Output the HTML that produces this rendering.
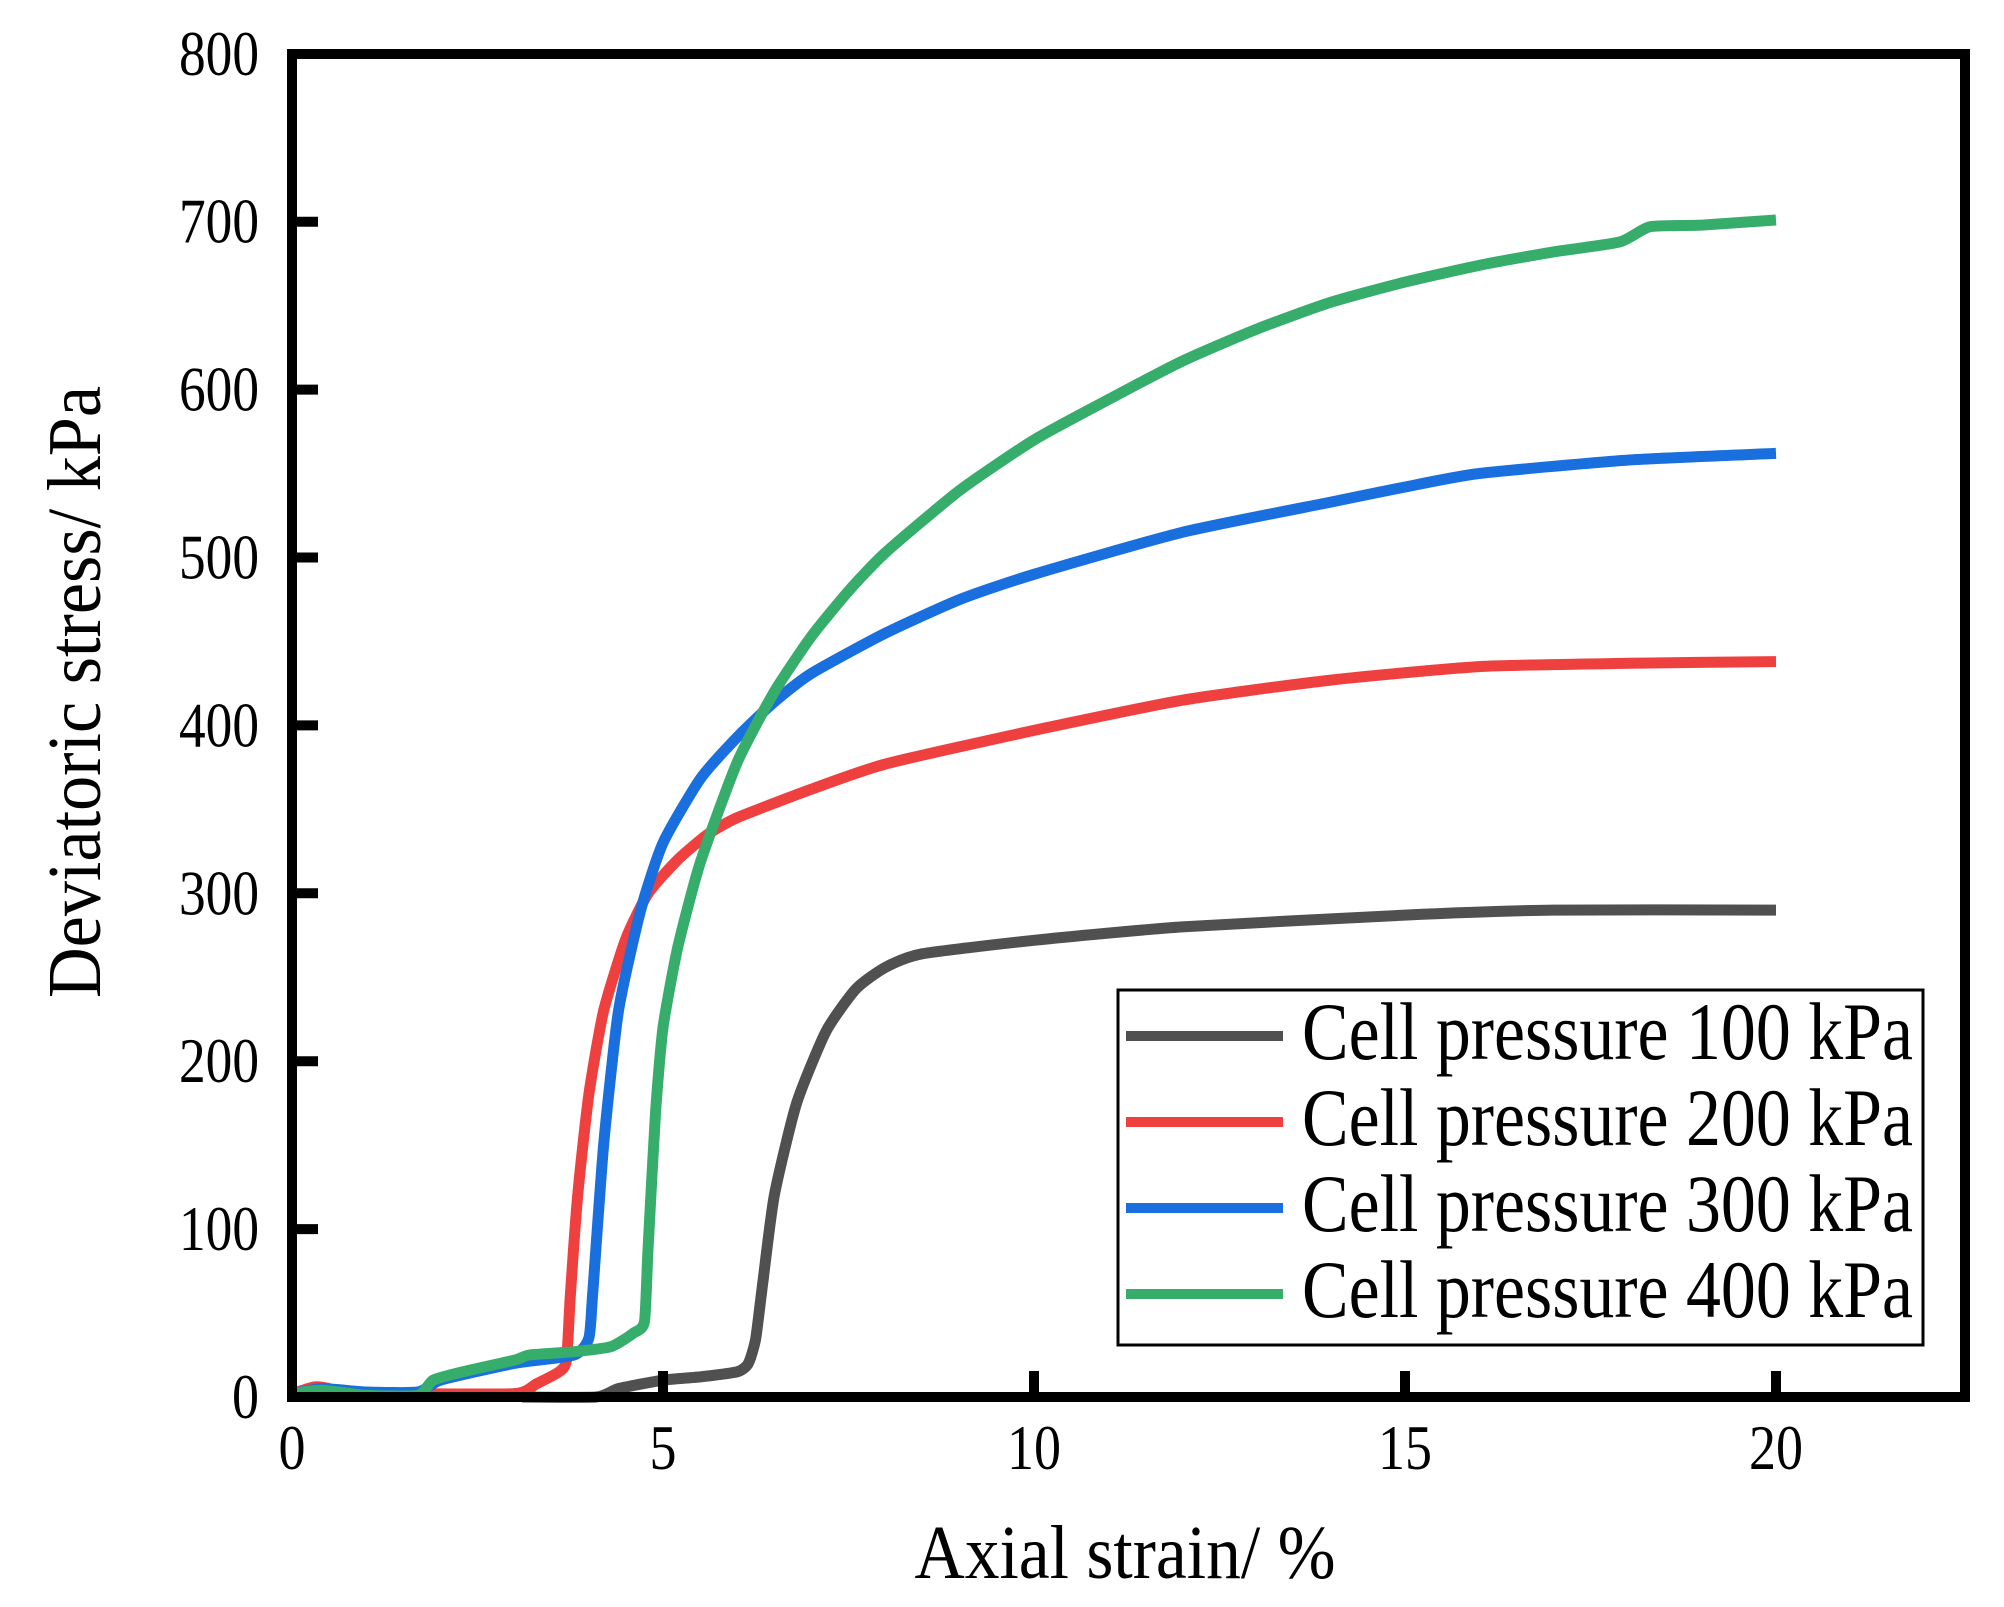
<!DOCTYPE html>
<html><head><meta charset="utf-8"><style>
html,body{margin:0;padding:0;background:#fff}
svg{display:block}
text{font-family:"Liberation Serif",serif;fill:#000}
</style></head><body>
<svg id="s" width="2004" height="1607" viewBox="0 0 2004 1607" xmlns="http://www.w3.org/2000/svg">
<g id="curves" fill="none" stroke-width="11" stroke-linejoin="round" stroke-linecap="butt"></g>
<rect x="292" y="54" width="1673" height="1343" fill="none" stroke="#000" stroke-width="10"/>
<g id="ticks" stroke="#000" stroke-width="10"></g>
<g id="labels" font-size="64"></g>
<text x="1125" y="1578" font-size="76" text-anchor="middle" textLength="421" lengthAdjust="spacingAndGlyphs">Axial strain/ %</text>
<text transform="translate(100,692) rotate(-90)" font-size="76" text-anchor="middle" textLength="612" lengthAdjust="spacingAndGlyphs">Deviatoric stress/ kPa</text>
<rect x="1118" y="990" width="805" height="355" fill="#fff" stroke="#000" stroke-width="3"/>
<g stroke-width="10">
<line x1="1126" y1="1036" x2="1283" y2="1036" stroke="#505050"/>
<line x1="1126" y1="1122" x2="1283" y2="1122" stroke="#ef4040"/>
<line x1="1126" y1="1208" x2="1283" y2="1208" stroke="#1a6fdf"/>
<line x1="1126" y1="1294" x2="1283" y2="1294" stroke="#37ad6b"/>
</g>
<g font-size="82">
<text x="1302" y="1059" textLength="611" lengthAdjust="spacingAndGlyphs">Cell pressure 100 kPa</text>
<text x="1302" y="1145" textLength="611" lengthAdjust="spacingAndGlyphs">Cell pressure 200 kPa</text>
<text x="1302" y="1231" textLength="611" lengthAdjust="spacingAndGlyphs">Cell pressure 300 kPa</text>
<text x="1302" y="1317" textLength="611" lengthAdjust="spacingAndGlyphs">Cell pressure 400 kPa</text>
</g>
</svg>
<script>
var NS="http://www.w3.org/2000/svg";
function X(x){return 292+74.2*x}
function Y(y){return 1397-1.679*y}
var t=document.getElementById("ticks"),l=document.getElementById("labels");
for(var v=0;v<=800;v+=100){
 if(v>0&&v<800){var ln=document.createElementNS(NS,"line");ln.setAttribute("x1",297);ln.setAttribute("x2",318);ln.setAttribute("y1",Y(v));ln.setAttribute("y2",Y(v));t.appendChild(ln);}
 var tx=document.createElementNS(NS,"text");tx.setAttribute("x",259);tx.setAttribute("y",Y(v)+21);tx.setAttribute("text-anchor","end");
 if(v>0){tx.setAttribute("textLength",80);tx.setAttribute("lengthAdjust","spacingAndGlyphs");}
 else{tx.setAttribute("textLength",27);tx.setAttribute("lengthAdjust","spacingAndGlyphs");}
 tx.textContent=v;l.appendChild(tx);
}
for(var u=0;u<=20;u+=5){
 if(u>0){var ln=document.createElementNS(NS,"line");ln.setAttribute("x1",X(u));ln.setAttribute("x2",X(u));ln.setAttribute("y1",1392);ln.setAttribute("y2",1371);t.appendChild(ln);}
 var tx=document.createElementNS(NS,"text");tx.setAttribute("x",X(u));tx.setAttribute("y",1469);tx.setAttribute("text-anchor","middle");
 tx.setAttribute("textLength",u>=10?54:27);tx.setAttribute("lengthAdjust","spacingAndGlyphs");
 tx.textContent=u;l.appendChild(tx);
}
var data=[
["#505050",[[3.1,0],[4.1,0],[4.4,5],[5,10],[5.5,12],[6,15],[6.15,20],[6.25,35],[6.35,70],[6.5,120],[6.8,175],[7.2,218],[7.6,243],[8,256],[8.5,264],[10,272],[12,280],[15,287],[17,290],[20,290]]],
["#ef4040",[[0,2],[0.3,6],[0.5,5],[0.7,2],[1.5,2],[3,2],[3.3,8],[3.6,15],[3.7,22],[3.75,60],[3.85,120],[4.0,180],[4.2,230],[4.5,273],[4.8,300],[5.2,320],[5.6,335],[6,345],[7,362],[8,377],[10,397],[12,415],[14,427],[16,435],[18,437],[20,438]]],
["#1a6fdf",[[0,2],[0.4,5],[1,3],[1.7,3],[2,10],[3,20],[3.8,25],[4.0,35],[4.05,60],[4.2,150],[4.4,230],[4.7,290],[5,330],[5.5,368],[6,393],[6.5,414],[7,431],[8,455],[9,475],[10,490],[12,515],[14,533],[15,542],[16,550],[18,558],[20,562]]],
["#37ad6b",[[0,2],[0.4,4],[1,1],[1.7,1],[1.9,10],[2.3,15],[3,22],[3.2,25],[3.8,27],[4.3,30],[4.6,38],[4.75,45],[4.8,90],[4.9,170],[5.0,220],[5.2,268],[5.5,318],[6,378],[6.5,420],[7,453],[7.5,480],[8,503],[9,540],[10,570],[11,594],[12,617],[13,636],[14,652],[15,664],[16,674],[17,682],[17.9,688],[18.3,697],[19,698],[20,701]]]
];
var g=document.getElementById("curves");
data.forEach(function(d){
 var P=d[1].map(function(q){return [X(q[0]),Y(q[1])]});
 var s="M"+P[0][0].toFixed(1)+","+P[0][1].toFixed(1);
 for(var i=0;i<P.length-1;i++){
  var p0=P[Math.max(0,i-1)],p1=P[i],p2=P[i+1],p3=P[Math.min(P.length-1,i+2)];
  var k=1/6*0.6;
  var c1=[p1[0]+(p2[0]-p0[0])*k,p1[1]+(p2[1]-p0[1])*k];
  var c2=[p2[0]-(p3[0]-p1[0])*k,p2[1]-(p3[1]-p1[1])*k];
  s+=" C"+c1[0].toFixed(1)+","+c1[1].toFixed(1)+" "+c2[0].toFixed(1)+","+c2[1].toFixed(1)+" "+p2[0].toFixed(1)+","+p2[1].toFixed(1);
 }
 var p=document.createElementNS(NS,"path");p.setAttribute("d",s);
 p.setAttribute("stroke",d[0]);g.appendChild(p);
});
</script>
</body></html>
